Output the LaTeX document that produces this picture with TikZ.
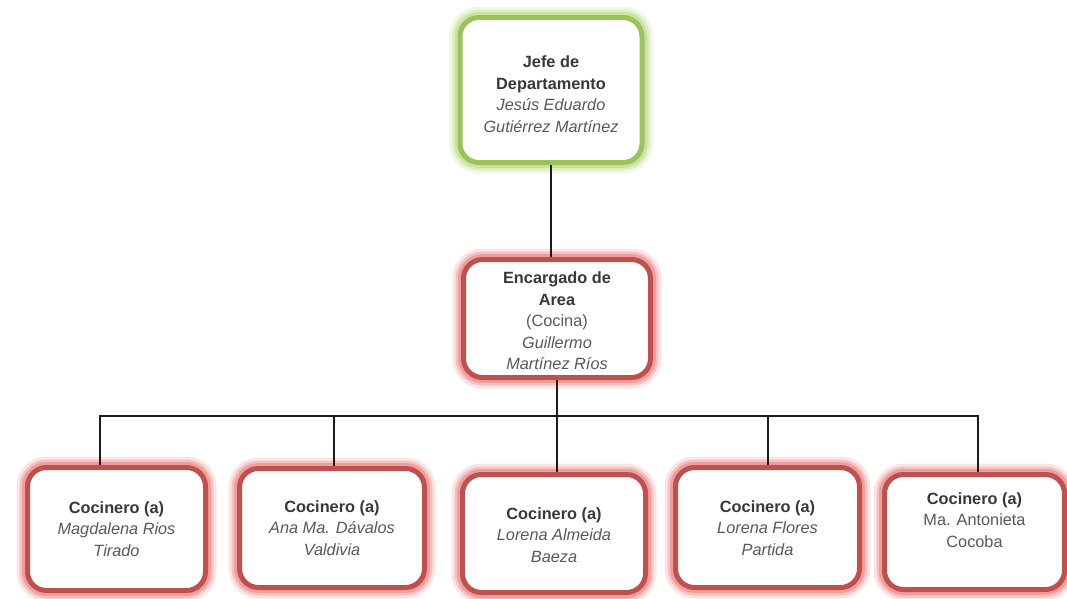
\documentclass[tikz,border=0pt]{standalone}
\usepackage{fontspec}
\setmainfont{Liberation Sans}
\definecolor{greenline}{HTML}{9BC35A}
\definecolor{greenglow}{HTML}{C6E19A}
\definecolor{redline}{HTML}{C0504D}
\definecolor{redglow}{HTML}{EC9896}
\definecolor{headtext}{HTML}{383838}
\definecolor{nametext}{HTML}{595959}
\definecolor{wire}{HTML}{1C1C1C}
\tikzset{
  card/.style 2 args={draw=#1, line width=5pt, fill=white, rounded corners=19pt,
    inner sep=0pt,
    preaction={draw=#2, line width=22pt, draw opacity=0.25},
    preaction={draw=#2, line width=16pt, draw opacity=0.45},
    preaction={draw=#2, line width=11pt, draw opacity=0.85}},
  greencard/.style={card={greenline}{greenglow}},
  redcard/.style={card={redline}{redglow}},
  label/.style={align=center, inner sep=0pt,
    font=\fontsize{16.3}{21.5}\selectfont},
  wiring/.style={draw=wire, line width=1.8pt},
}
\newcommand{\hd}[1]{\textcolor{headtext}{\textbf{#1}}}
\newcommand{\nm}[1]{\textcolor{nametext}{\textit{#1}}}
\newcommand{\up}[1]{\textcolor{nametext}{#1}}
\begin{document}
\begin{tikzpicture}[x=1pt,y=-1pt]
\useasboundingbox (0,0) rectangle (1067,598);

% boxes
\node[greencard, minimum width=182pt, minimum height=145pt] (top) at (551,90) {};
\node[redcard, minimum width=187pt, minimum height=118pt] (mid) at (557,318.5) {};
\node[redcard, minimum width=178pt, minimum height=123pt] (b1) at (116.5,529) {};
\node[redcard, minimum width=185pt, minimum height=119pt] (b2) at (332,528) {};
\node[redcard, minimum width=183pt, minimum height=118pt] (b3) at (554,533.5) {};
\node[redcard, minimum width=184pt, minimum height=120pt] (b4) at (767.5,527.5) {};
\node[redcard, minimum width=180pt, minimum height=115pt] (b5) at (974.5,532) {};

% texts
\node[label] (ttop) at (551,94) {\hd{Jefe de}\\\hd{Departamento}\\\nm{Jesús Eduardo}\\\nm{Gutiérrez Martínez}};
\node[label] (tmid) at (557,321) {\hd{Encargado de}\\\hd{Area}\\\up{(Cocina)}\\\nm{Guillermo}\\\nm{Martínez Ríos}};
\node[label] (t1) at (116.5,529) {\hd{Cocinero (a)}\\\nm{Magdalena Rios}\\\nm{Tirado}};
\node[label] (t2) at (332,528) {\hd{Cocinero (a)}\\\nm{Ana Ma. Dávalos}\\\nm{Valdivia}};
\node[label] (t3) at (554,535) {\hd{Cocinero (a)}\\\nm{Lorena Almeida}\\\nm{Baeza}};
\node[label] (t4) at (767.5,528) {\hd{Cocinero (a)}\\\nm{Lorena Flores}\\\nm{Partida}};
\node[label] (t5) at (974.5,520) {\hd{Cocinero (a)}\\\up{Ma. Antonieta}\\\up{Cocoba}};

% bus coordinates
\coordinate (j0) at (557,416);
\coordinate (j1) at (100,416);
\coordinate (j2) at (334,416);
\coordinate (j3) at (557,416);
\coordinate (j4) at (768,416);
\coordinate (j5) at (978,416);

% connectors
\draw[wiring] (top.south) -- (top.south |- mid.north);
\draw[wiring] (mid.south) -- (j0);
\draw[wiring, line cap=rect] (j1) -- (j5);
\draw[wiring] (j1) -- (j1 |- b1.north);
\draw[wiring] (j2) -- (j2 |- b2.north);
\draw[wiring] (j3) -- (j3 |- b3.north);
\draw[wiring] (j4) -- (j4 |- b4.north);
\draw[wiring] (j5) -- (j5 |- b5.north);
\end{tikzpicture}
\end{document}
